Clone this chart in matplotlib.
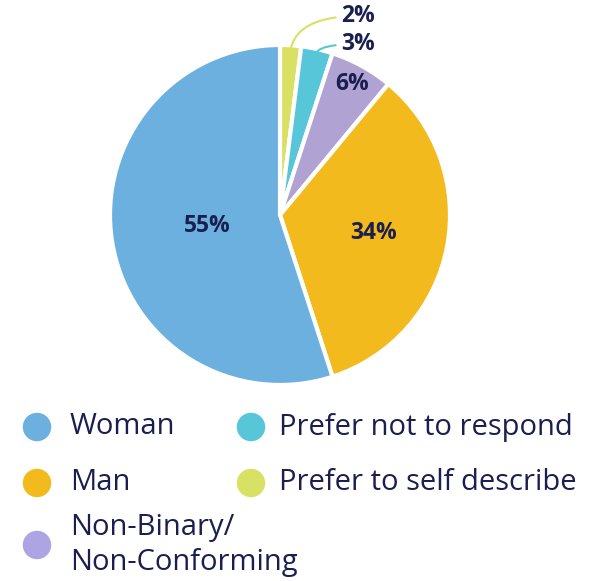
import numpy as np
import matplotlib
matplotlib.use("Agg")
import matplotlib.pyplot as plt

plt.rcParams["font.family"] = ["Open Sans", "DejaVu Sans"]

# ── Data (clockwise from 12 o'clock) ─────────────────────────────────────────
slice_labels = ["Prefer to self describe", "Prefer not to respond",
                "Non-Binary/\nNon-Conforming", "Man", "Woman"]
slice_values = [2, 3, 6, 34, 55]
slice_colors = ["#d8e163", "#57c6d9", "#b0a3d3", "#f2ba1c", "#6cb0e0"]

legend_order = ["Woman", "Prefer not to respond", "Man",
                "Prefer to self describe", "Non-Binary/\nNon-Conforming"]
legend_colors = ["#6cb0e0", "#57c6d9", "#f2ba1c", "#d8e163", "#ada5e3"]

TEXT = "#1b1f4f"

fig = plt.figure(figsize=(5.96, 5.81), dpi=100)

# ── Pie ──────────────────────────────────────────────────────────────────────
ax = fig.add_axes([110 / 596, (581 - 385) / 581, 340 / 596, 340 / 581])
wedges, _ = ax.pie(slice_values, colors=slice_colors, startangle=90,
                   counterclock=False, radius=1.0,
                   wedgeprops=dict(edgecolor="white", linewidth=3))
ax.set_xlim(-1, 1)
ax.set_ylim(-1, 1)
ax.set_aspect("equal")
ax.axis("off")

# inside labels: per-slice radial distance
inner_dist = {2: 0.88, 3: 0.56, 4: 0.43}
for i, d in inner_dist.items():
    w = wedges[i]
    ang = np.deg2rad((w.theta1 + w.theta2) / 2)
    ax.text(d * np.cos(ang), d * np.sin(ang), f"{slice_values[i]}%",
            ha="center", va="center", fontsize=16.5, fontweight="bold", color=TEXT)

# outside labels with curved leaders
outside = [(0, (0.36, 1.17)), (1, (0.36, 1.005))]
for i, (tx, ty) in outside:
    w = wedges[i]
    ang = np.deg2rad((w.theta1 + w.theta2) / 2)
    px, py = 0.97 * np.cos(ang), 0.97 * np.sin(ang)
    ax.annotate(f"{slice_values[i]}%", xy=(px, py), xytext=(tx, ty),
                ha="left", va="center", fontsize=16.5, fontweight="bold",
                color=TEXT, annotation_clip=False,
                arrowprops=dict(arrowstyle="-", color=slice_colors[i], lw=1.5,
                                shrinkA=2, shrinkB=0,
                                connectionstyle="angle3,angleA=0,angleB=80"))

# ── Legend (drawn by hand in pixel coords) ───────────────────────────────────
lax = fig.add_axes([0, 0, 1, 1])
lax.set_xlim(0, 596)
lax.set_ylim(581, 0)
lax.axis("off")
marker_x = [37, 251, 37, 251, 37]
marker_y = [427, 427, 483, 483, 545]
text_x = [70, 279, 70, 279, 70]
for lab, col, mx, my, tx in zip(legend_order, legend_colors, marker_x, marker_y, text_x):
    lax.scatter([mx], [my], s=420, color=col, edgecolors="none")
    lax.text(tx, my, lab, ha="left", va="center", fontsize=21,
             color=TEXT, linespacing=1.25)

fig.savefig("out.png", dpi=100)
